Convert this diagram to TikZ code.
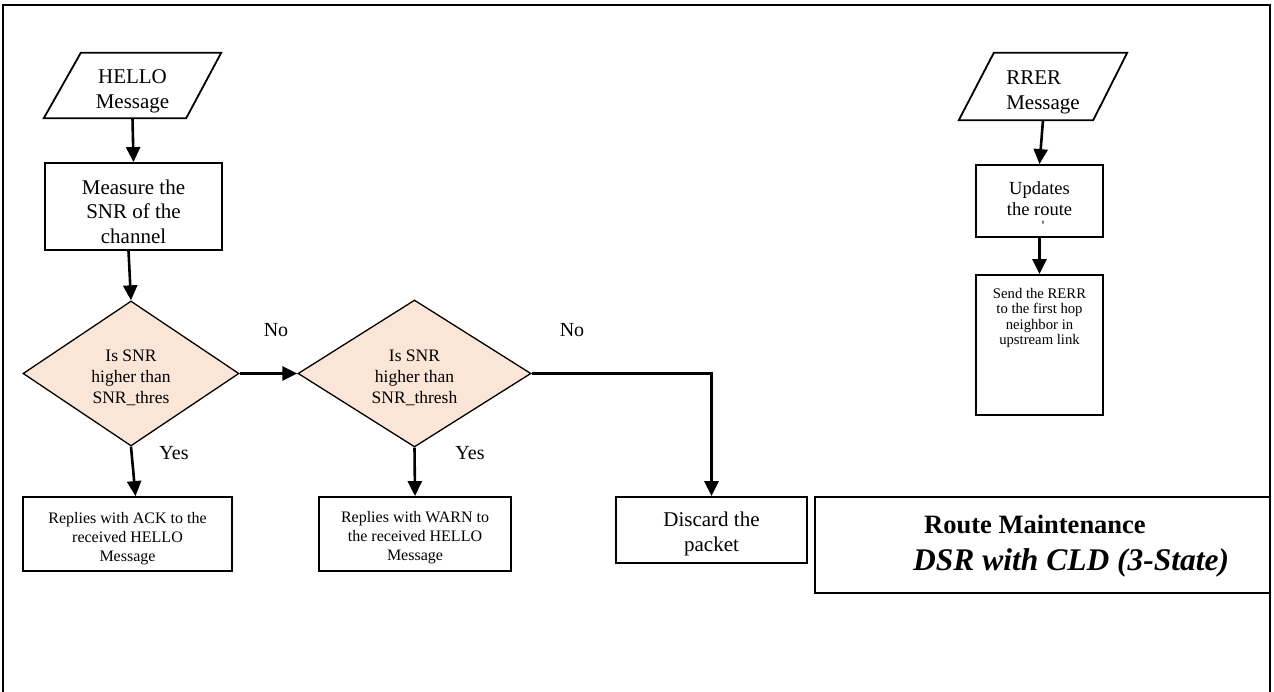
\documentclass[tikz,border=0pt]{standalone}
\usepackage{fontspec}
\setmainfont{Liberation Serif}
\usetikzlibrary{arrows.meta,shapes.geometric,calc}
\definecolor{peach}{HTML}{FBE5D6}
\begin{document}
\begin{tikzpicture}[x=1pt,y=-1pt,
  box/.style={draw,line width=1.8pt,inner sep=0pt},
  txt/.style={inner sep=0pt,align=center},
  txtbig/.style={font=\fontsize{21}{24.5}\selectfont},
  txtdec/.style={font=\fontsize{17.5}{21}\selectfont},
  txtsmall/.style={font=\fontsize{16}{19}\selectfont},
  dec/.style={draw,diamond,line width=1.3pt,fill=peach,inner sep=0pt},
  arr/.style={line width=2.6pt,-{Triangle[length=15pt,width=14pt]}},
  lbl/.style={font=\fontsize{20}{24}\selectfont,inner sep=0pt}]
\useasboundingbox (0,0) rectangle (1274,692);
% outer frame
\draw[line width=2pt] (3,692) -- (3,5) -- (1270,5) -- (1270,692);

% left flow
\node[inner sep=0pt,minimum width=177pt,minimum height=65pt] (hello) at (132.5,85.5) {};
\draw[line width=1.8pt] ($(hello.north west)+(37,0)$) -- (hello.north east) -- ($(hello.south east)-(35,0)$) -- (hello.south west) -- cycle;
\node[txt,txtbig] (hellotxt) at ([yshift=-6pt]hello.center) {HELLO\\Message};

\node[box,minimum width=177pt,minimum height=87pt] (measure) at (133.5,206.5) {};
\node[txt,txtbig] (measuretxt) at ([yshift=-5pt]measure.center) {Measure the\\SNR of the\\channel};

\node[dec,minimum width=216pt,minimum height=145pt] (d1) at (131,373.5) {};
\node[txt,txtdec] (d1txt) at ([yshift=-4pt]d1.center) {Is SNR\\higher than\\SNR\_thres};
\node[dec,minimum width=233pt,minimum height=147pt] (d2) at (414.5,373.5) {};
\node[txt,txtdec] (d2txt) at ([yshift=-4pt]d2.center) {Is SNR\\higher than\\SNR\_thresh};

\node[box,minimum width=209pt,minimum height=74pt] (ack) at (127.5,534) {};
\node[txt,txtsmall] (acktxt) at ([yshift=-5pt]ack.center) {Replies with ACK to the\\received HELLO\\Message};
\node[box,minimum width=192pt,minimum height=74pt] (warn) at (415,534) {};
\node[txt,txtsmall] (warntxt) at ([yshift=-4pt]warn.center) {Replies with WARN to\\the received HELLO\\Message};
\node[box,minimum width=191pt,minimum height=66pt] (discard) at (711.5,530) {};
\node[txt,txtbig] (discardtxt) at ([yshift=-4pt]discard.center) {Discard the\\packet};

\node[lbl] (no1) at (276,330) {No};
\node[lbl] (no2) at (572,330) {No};
\node[lbl] (yes1) at (174,453) {Yes};
\node[lbl] (yes2) at (470,453) {Yes};

\draw[arr] (hello.south) -- (measure.north);
\draw[arr] ([xshift=-5pt]measure.south) -- (d1.north);
\draw[arr] (d1.east) -- (d2.west);
\draw[arr] (d1.south) -- ([xshift=8pt]ack.north);
\draw[arr] (d2.south) -- (warn.north);
\draw[arr] (d2.east) -| (discard.north);

% title box
\node[box,minimum width=455pt,minimum height=96pt] (title) at (1042.5,545) {};
\node[anchor=base west,inner sep=0pt,font=\fontsize{26.5}{30}\selectfont\bfseries] (t1) at (924,533) {Route Maintenance};
\node[anchor=base west,inner sep=0pt,font=\fontsize{31.5}{36}\selectfont\bfseries\itshape] (t2) at (913,570) {DSR with CLD (3-State)};

% right flow
\node[inner sep=0pt,minimum width=168pt,minimum height=67pt] (rrer) at (1043,86.5) {};
\draw[line width=1.8pt] ($(rrer.north west)+(35,0)$) -- (rrer.north east) -- ($(rrer.south east)-(34,0)$) -- (rrer.south west) -- cycle;
\node[inner sep=0pt,align=left,txtbig] (rrertxt) at ([yshift=-6pt]rrer.center) {RRER\\Message};

\node[box,minimum width=127pt,minimum height=72pt] (upd) at (1039.5,201) {};
\node[txt,font=\fontsize{18.5}{21}\selectfont] (updtxt) at (1039.5,199) {Updates\\the route};
\node[inner sep=0pt,font=\fontsize{14}{14}\selectfont] (tick) at (1043,226) {\textquotesingle};

\node[box,minimum width=127pt,minimum height=140pt] (send) at (1039.5,345) {};
\node[txt,font=\fontsize{14.7}{15.4}\selectfont] (sendtxt) at (1039.5,318) {Send the RERR\\to the first hop\\neighbor in\\upstream link};

\draw[arr] (rrer.south) -- (upd.north);
\draw[arr] (upd.south) -- (send.north);
\end{tikzpicture}
\end{document}
